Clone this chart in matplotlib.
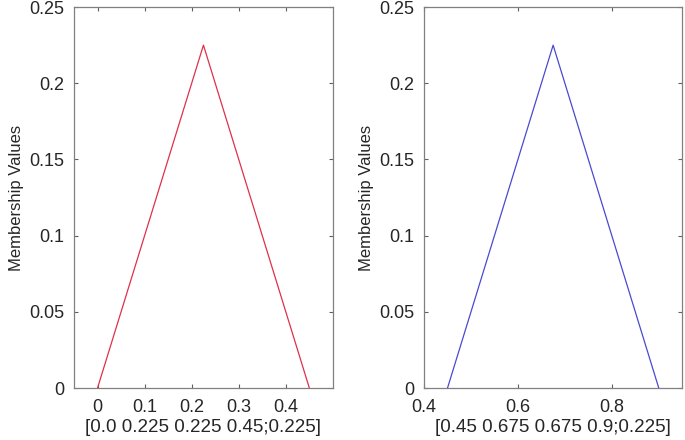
import matplotlib
matplotlib.use('Agg')
import matplotlib.pyplot as plt

# triangular membership functions [a b b c; height]
x_left = [0.0, 0.225, 0.45]
y_left = [0.0, 0.225, 0.0]
x_right = [0.45, 0.675, 0.9]
y_right = [0.0, 0.225, 0.0]

yticks = [0, 0.05, 0.1, 0.15, 0.2, 0.25]
yticklabels = ['0', '0.05', '0.1', '0.15', '0.2', '0.25']
xticks_left = [0, 0.1, 0.2, 0.3, 0.4]
xticks_right = [0.4, 0.6, 0.8]
xlabel_left = '[0.0 0.225 0.225 0.45;0.225]'
xlabel_right = '[0.45 0.675 0.675 0.9;0.225]'

plt.rcParams['font.family'] = ['Liberation Sans', 'DejaVu Sans']

fig = plt.figure(figsize=(6.85, 4.4), dpi=100)
ax1 = fig.add_axes([0.108, 0.118, 0.378, 0.866])
ax2 = fig.add_axes([0.619, 0.118, 0.377, 0.866])

panels = [
    (ax1, x_left, y_left, '#e0304a', xticks_left, ['0', '0.1', '0.2', '0.3', '0.4'], (-0.05, 0.5), xlabel_left),
    (ax2, x_right, y_right, '#4a4ad0', xticks_right, ['0.4', '0.6', '0.8'], (0.4, 0.95), xlabel_right),
]

for ax, xs, ys, col, xt, xtl, xl, lab in panels:
    ax.plot(xs, ys, color=col, lw=0.9)
    ax.set_xlim(*xl)
    ax.set_ylim(0, 0.25)
    ax.set_xticks(xt)
    ax.set_xticklabels(xtl)
    ax.set_yticks(yticks)
    ax.set_yticklabels(yticklabels)
    ax.tick_params(direction='in', top=True, right=True, length=3,
                   labelsize=13, color='#606060', labelcolor='#262626', width=0.8)
    ax.tick_params(axis='x', pad=8)
    ax.tick_params(axis='y', pad=7)
    for s in ax.spines.values():
        s.set_color('#808080')
        s.set_linewidth(0.9)
    ax.set_ylabel('Membership Values', fontsize=12, color='#262626', labelpad=4)
    ax.set_xlabel(lab, fontsize=13.5, color='#262626', labelpad=2)

fig.savefig('out.png', dpi=100)
